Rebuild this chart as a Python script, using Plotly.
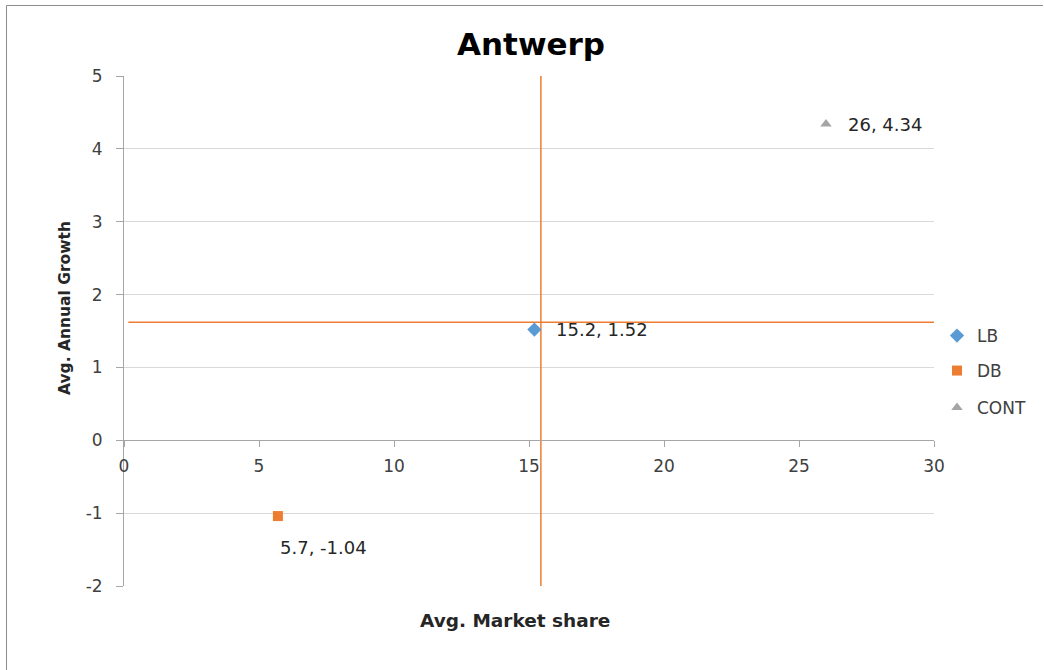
import plotly.graph_objects as go

series = ["LB", "DB", "CONT"]
market_share = [15.2, 5.7, 26]
annual_growth = [1.52, -1.04, 4.34]
colors = ["#5B9BD5", "#ED7D31", "#A5A5A5"]
symbols = ["diamond", "square", "triangle-up"]

# reference (average) lines
vline_x = [15.44, 15.44]
vline_y = [-2, 5]
hline_x = [0.16, 30]
hline_y = [1.62, 1.62]

x_ticks = [0, 5, 10, 15, 20, 25, 30]
y_ticks = [-2, -1, 0, 1, 2, 3, 4, 5]

FONT = "'DejaVu Sans', sans-serif"

W, H = 1044, 670
L, R, T, B = 124, 110, 76, 84
pw, ph = W - L - R, H - T - B


def px_to_paper(px, py):
    return ((px - L) / pw, 1 - (py - T) / ph)


fig = go.Figure()

fig.add_trace(go.Scatter(x=vline_x, y=vline_y, mode="lines",
                         line=dict(color="#ED7D31", width=1.5),
                         showlegend=False, hoverinfo="skip"))
fig.add_trace(go.Scatter(x=hline_x, y=hline_y, mode="lines",
                         line=dict(color="#ED7D31", width=1.5),
                         showlegend=False, hoverinfo="skip"))

legend_names = ["legend", "legend2", "legend3"]
legend_py = [336, 371, 408]
for name, xv, yv, c, s, lg in zip(series, market_share, annual_growth, colors, symbols, legend_names):
    fig.add_trace(go.Scatter(x=[xv], y=[yv], mode="markers", name=name, legend=lg,
                             marker=dict(symbol=s, color=c, size=10 if s != "diamond" else 11,
                                         line=dict(width=0))))

# data labels
label_offsets = {"LB": (20, 0), "DB": (0, -31), "CONT": (20, 0)}
annotations = []
for name, xv, yv in zip(series, market_share, annual_growth):
    xs, ys = label_offsets[name]
    annotations.append(dict(x=xv, y=yv, xref="x", yref="y", text=f"{xv:g}, {yv:g}",
                            showarrow=False, xanchor="left", yanchor="middle",
                            xshift=xs, yshift=ys,
                            font=dict(family=FONT, size=18, color="#262626")))

yx, yy = px_to_paper(65, 308)
annotations.append(dict(x=yx, y=yy, xref="paper", yref="paper", text="<b>Avg. Annual Growth</b>",
                        showarrow=False, textangle=-90, xanchor="center", yanchor="middle",
                        font=dict(family=FONT, size=15.5, color="#262626")))
xt_x, xt_y = px_to_paper(514.5, 620)
annotations.append(dict(x=xt_x, y=xt_y, xref="paper", yref="paper", text="<b>Avg. Market share</b>",
                        showarrow=False, xanchor="center", yanchor="middle",
                        font=dict(family=FONT, size=18.5, color="#262626")))
tt_x, tt_y = px_to_paper(530.5, 44)
annotations.append(dict(x=tt_x, y=tt_y, xref="paper", yref="paper", text="<b>Antwerp</b>",
                        showarrow=False, xanchor="center", yanchor="middle",
                        font=dict(family=FONT, size=31, color="#000000")))

# chart-area border: only top and left edges are visible in the frame
bx0, by0 = px_to_paper(6.5, 5.5)
bx1, by1 = px_to_paper(1043, 670)
border = [
    dict(type="line", xref="paper", yref="paper", x0=bx0, y0=by0, x1=bx1, y1=by0,
         line=dict(color="#8c8c8c", width=1), layer="below"),
    dict(type="line", xref="paper", yref="paper", x0=bx0, y0=by0, x1=bx0, y1=by1,
         line=dict(color="#8c8c8c", width=1), layer="below"),
]

legends = {}
lx, _ = px_to_paper(937, 0)
for lg, py in zip(legend_names, legend_py):
    _, ly = px_to_paper(0, py)
    legends[lg] = dict(x=lx, y=ly, xanchor="left", yanchor="middle", bgcolor="rgba(0,0,0,0)",
                       font=dict(family=FONT, size=17, color="#404040"), itemwidth=30)

fig.update_layout(
    width=W, height=H,
    margin=dict(l=L, r=R, t=T, b=B, autoexpand=False),
    paper_bgcolor="white", plot_bgcolor="white",
    font=dict(family=FONT, size=17, color="#404040"),
    annotations=annotations,
    shapes=border,
    showlegend=True,
    **legends,
    xaxis=dict(range=[0, 30], tickvals=x_ticks, ticktext=[str(v) for v in x_ticks],
               showgrid=False, zeroline=False,
               showline=True, linecolor="#a6a6a6", linewidth=1,
               ticks="outside", ticklen=6, tickcolor="#a6a6a6",
               anchor="free", position=2 / 7, ticklabelstandoff=4,
               tickfont=dict(family=FONT, size=17, color="#404040")),
    yaxis=dict(range=[-2, 5], tickvals=y_ticks, ticktext=[str(v) for v in y_ticks],
               showgrid=True, gridcolor="#d9d9d9", gridwidth=1,
               zeroline=False, showline=True, linecolor="#a6a6a6", linewidth=1,
               ticks="outside", ticklen=7, tickcolor="#a6a6a6", ticklabelstandoff=10,
               tickfont=dict(family=FONT, size=17, color="#404040")),
)

fig.write_html("out.html")
